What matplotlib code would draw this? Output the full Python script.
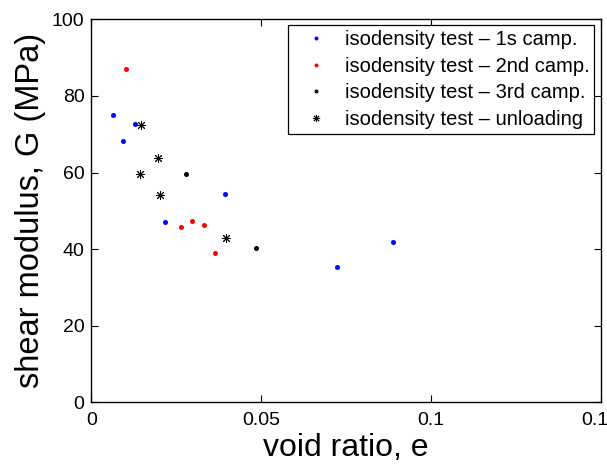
import numpy as np
import matplotlib
matplotlib.use('Agg')
import matplotlib.pyplot as plt

plt.rcParams['font.family'] = ['Liberation Sans', 'DejaVu Sans']

# data (void ratio e, shear modulus G in MPa)
e_camp1 = [0.0063, 0.0094, 0.0129, 0.0216, 0.0393, 0.0722, 0.0889]
G_camp1 = [75.1, 68.1, 72.7, 47.1, 54.5, 35.4, 41.8]

e_camp2 = [0.0101, 0.0263, 0.0296, 0.0330, 0.0364]
G_camp2 = [86.9, 45.9, 47.4, 46.3, 39.1]

e_camp3 = [0.0278, 0.0486]
G_camp3 = [59.5, 40.4]

e_unload = [0.0147, 0.0195, 0.0143, 0.0202, 0.0396]
G_unload = [72.4, 63.8, 59.5, 54.2, 42.8]

labels = ['isodensity test \u2013 1s camp.',
          'isodensity test \u2013 2nd camp.',
          'isodensity test \u2013 3rd camp.',
          'isodensity test \u2013 unloading']

xticks = [0, 0.05, 0.1, 0.15]
xticklabels = ['0', '0.05', '0.1', '0.15']
yticks = [0, 20, 40, 60, 80, 100]

#%%
fig = plt.figure(figsize=(6.07, 4.65), dpi=100)
ax = fig.add_axes([0.1507, 0.1348, 0.8389, 0.8237])

ax.plot(e_camp1, G_camp1, 'o', color='blue', ms=3.6, mew=0, label=labels[0])
ax.plot(e_camp2, G_camp2, 'o', color='red', ms=3.6, mew=0, label=labels[1])
ax.plot(e_camp3, G_camp3, 'o', color='black', ms=3.6, mew=0, label=labels[2])
ax.plot(e_unload, G_unload, ls='none', marker=(8, 2, 0), color='black', ms=6.5, mew=0.7, label=labels[3])

ax.set_xlim(0, 0.15)
ax.set_ylim(0, 100)
ax.set_xticks(xticks)
ax.set_xticklabels(xticklabels)
ax.set_yticks(yticks)
ax.tick_params(direction='in', length=5, width=0.8, top=True, right=True, labelsize=14, pad=5)
ax.tick_params(axis='x', pad=7)
for s in ax.spines.values():
    s.set_linewidth(1.0)

ax.set_xlabel('void ratio, e', fontsize=23, labelpad=2.5)
ax.set_ylabel('shear modulus, G (MPa)', fontsize=23.5, labelpad=4)

leg = ax.legend(loc='upper right', bbox_to_anchor=(594.3/607, (465-25)/465),
                bbox_transform=fig.transFigure, borderaxespad=0,
                fontsize=14.5, fancybox=False, framealpha=1, edgecolor='black',
                handlelength=2.3, handletextpad=0.25, borderpad=0.25,
                labelspacing=0.38, markerscale=0.8)
leg.get_frame().set_linewidth(0.9)

fig.savefig('out.png', dpi=100)
